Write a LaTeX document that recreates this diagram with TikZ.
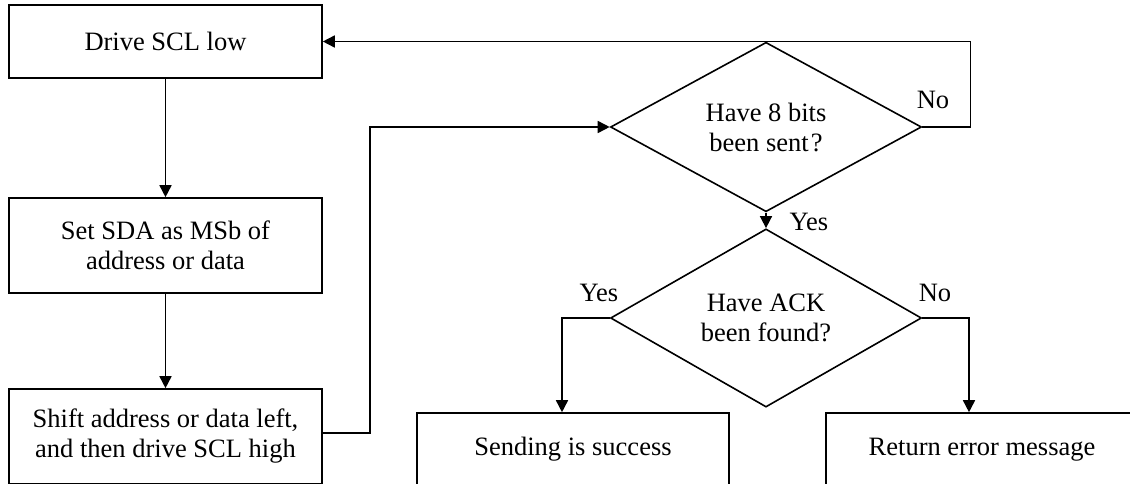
\documentclass[tikz,border=0pt]{standalone}
\usepackage{fontspec}
\setmainfont{Liberation Serif}
\newfontfamily\tnr{Liberation Serif}
\usetikzlibrary{shapes.geometric,arrows.meta,calc}
\begin{document}
\begin{tikzpicture}[x=1pt,y=-1pt,
  every node/.style={font=\tnr\fontsize{26.5}{30}\selectfont},
  proc/.style={draw, line width=1.6pt, rectangle, minimum width=313pt, inner sep=0pt, align=center},
  dec/.style={draw, line width=1.6pt, diamond, minimum width=311pt, minimum height=140pt, inner sep=0pt, align=center},
  conn/.style={line width=1.6pt},
  arr/.style={conn, -{Triangle[length=12pt,width=12pt]}},
  lbl/.style={inner sep=0pt}]
\useasboundingbox (0,0) rectangle (1130,484);
\clip (0,0) rectangle (1130,484);
\fill[white] (0,0) rectangle (1130,484);
\node[proc, minimum height=73pt] (b1) at (165.5,41.5) {Drive SCL low};
\node[proc, minimum height=95pt] (b2) at (165.5,245.5) {Set SDA as MSb of\\address or data};
\node[proc, minimum height=95pt] (b3) at (165.5,436.5) {Shift address or data left,\\and then drive SCL high};
\node[dec] (d1) at (766,127) {Have 8 bits\\been sent\kern2pt?};
\node[dec, minimum height=142pt] (d2) at (766,318) {Have ACK\\been found?};
\node[proc, minimum width=312pt, minimum height=73pt] (b4) at (573,449.5) {Sending is success};
\node[proc, minimum width=312pt, minimum height=73pt] (b5) at (982,449.5) {Return error message};
\node[lbl] (no1) at (933,100) {No};
\node[lbl] (yes1) at (809,222) {Yes};
\node[lbl] (yes2) at (599,293) {Yes};
\node[lbl] (no2) at (935,293) {No};
\draw[arr] (b1.south) -- (b2.north);
\draw[arr] (b2.south) -- (b3.north);
\draw[arr] ([yshift=3.5pt]b3.east) -- ++(47,0) |- (d1.west);
\draw[arr] (d1.east) -- ++(48,0) |- (b1.east);
\draw[arr] (d1.south) -- (d2.north);
\draw[arr] (d2.west) -| ([xshift=-11pt]b4.north);
\draw[arr] (d2.east) -| ([xshift=-13pt]b5.north);
\end{tikzpicture}
\end{document}
